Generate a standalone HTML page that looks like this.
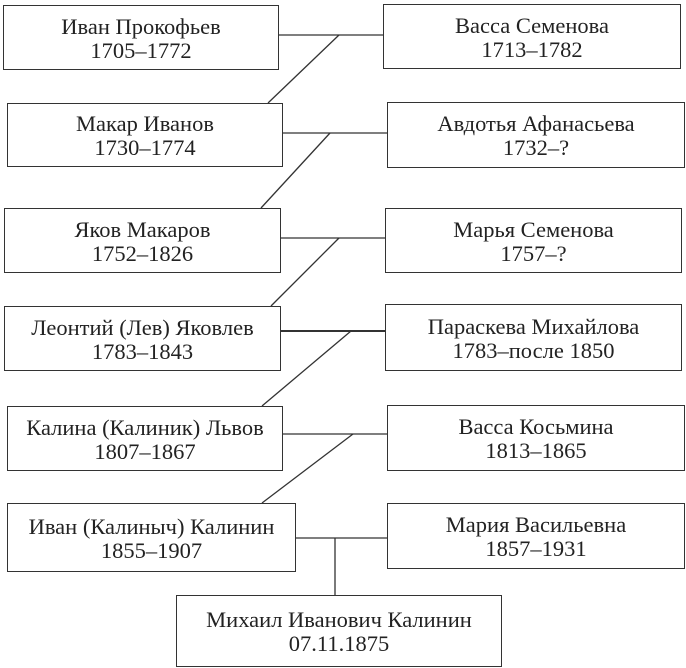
<!DOCTYPE html>
<html><head><meta charset="utf-8"><style>
body{margin:0;background:#fff;width:686px;height:668px;position:relative;overflow:hidden;font-family:"Liberation Serif","DejaVu Serif",serif;color:#222}
.b{position:absolute;box-sizing:border-box;border:1.5px solid #333;display:flex;flex-direction:column;justify-content:center;align-items:center;font-size:22.5px;line-height:24px;text-align:center;white-space:nowrap;padding-top:2px}
svg{position:absolute;left:0;top:0}
</style></head><body>
<svg width="686" height="668" stroke="#333" stroke-width="1.3" fill="none">
<line x1="279" y1="35" x2="383" y2="35"/><line x1="339" y1="35" x2="268" y2="103"/>
<line x1="283" y1="133" x2="387" y2="133"/><line x1="330" y1="133" x2="261" y2="208"/>
<line x1="281" y1="238" x2="385" y2="238"/><line x1="339" y1="238" x2="271" y2="306"/>
<line x1="281" y1="331" x2="385" y2="331" stroke-width="2"/><line x1="351" y1="331" x2="262" y2="406"/>
<line x1="283" y1="434" x2="387" y2="434"/><line x1="353" y1="434" x2="262" y2="503"/>
<line x1="296" y1="538" x2="387" y2="538"/><line x1="335" y1="538" x2="335" y2="595"/>
</svg>
<div class="b" style="left:3px;top:5px;width:276px;height:65px">Иван Прокофьев<br>1705–1772</div>
<div class="b" style="left:383px;top:4px;width:298px;height:65px">Васса Семенова<br>1713–1782</div>
<div class="b" style="left:7px;top:103px;width:276px;height:64px">Макар Иванов<br>1730–1774</div>
<div class="b" style="left:387px;top:102px;width:298px;height:66px">Авдотья Афанасьева<br>1732–?</div>
<div class="b" style="left:4px;top:208px;width:277px;height:65px">Яков Макаров<br>1752–1826</div>
<div class="b" style="left:385px;top:208px;width:297px;height:65px">Марья Семенова<br>1757–?</div>
<div class="b" style="left:4px;top:306px;width:277px;height:65px">Леонтий (Лев) Яковлев<br>1783–1843</div>
<div class="b" style="left:385px;top:304px;width:297px;height:67px">Параскева Михайлова<br>1783–после 1850</div>
<div class="b" style="left:7px;top:406px;width:276px;height:65px">Калина (Калиник) Львов<br>1807–1867</div>
<div class="b" style="left:387px;top:405px;width:298px;height:66px">Васса Косьмина<br>1813–1865</div>
<div class="b" style="left:7px;top:503px;width:289px;height:69px">Иван (Калиныч) Калинин<br>1855–1907</div>
<div class="b" style="left:387px;top:503px;width:298px;height:66px">Мария Васильевна<br>1857–1931</div>
<div class="b" style="left:176px;top:595px;width:326px;height:72px">Михаил Иванович Калинин<br>07.11.1875</div>
</body></html>
